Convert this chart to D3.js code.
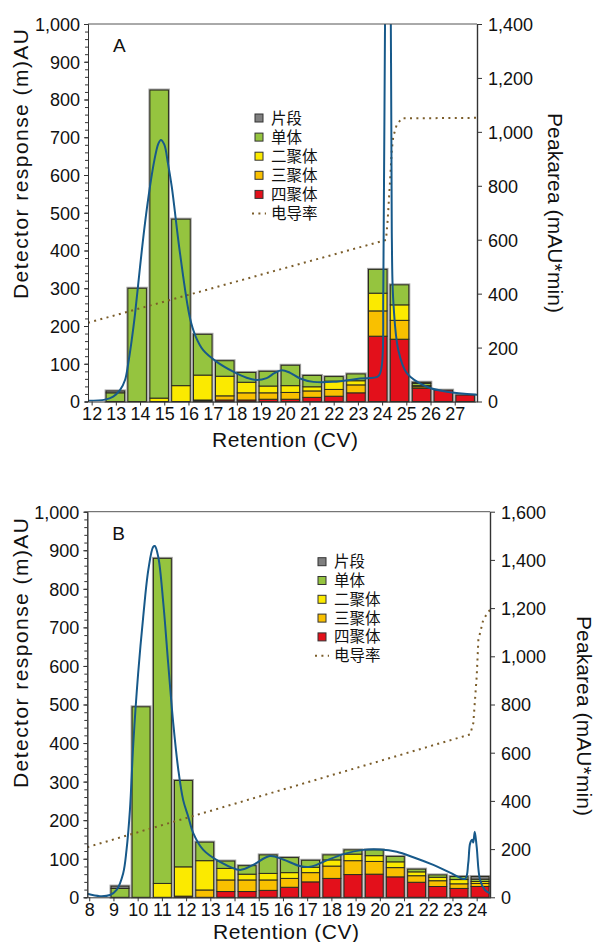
<!DOCTYPE html>
<html>
<head>
<meta charset="utf-8">
<script src="https://cdn.jsdelivr.net/npm/d3@7"></script>
<style>
  body { margin: 0; background: #fff; }
  svg text { font-family: "Liberation Sans", Arial, sans-serif; fill: #111; }
</style>
</head>
<body>
<svg id="chart" width="597" height="942"></svg>
<script>
// ---- species (stacked bottom -> top) and legend order ----
const stackKeys = ["四聚体", "三聚体", "二聚体", "单体", "片段"];
const legendKeys = ["片段", "单体", "二聚体", "三聚体", "四聚体"];
const conductivityLabel = "电导率";
const speciesColors = ["#7f7f7f", "#95c43f", "#fbea00", "#f9c000", "#e3101b"]; // legend order

// ---- panel A: fractions (retention in CV) and their composition (mAU) ----
const fractionCvA = [12.98, 13.88, 14.79, 15.69, 16.59, 17.50, 18.40, 19.30, 20.21, 21.11, 22.01, 22.92, 23.82, 24.72, 25.63, 26.53, 27.43];
const fragmentA = [5, 0, 0, 0, 0, 0, 0, 0, 0, 0, 0, 0, 0, 0, 3, 0, 0];
const monomerA  = [23, 300, 816, 441, 108, 41, 26, 39, 54, 30, 12, 18, 63, 53, 6, 0, 0];
const dimerA    = [0, 0, 9, 42, 66, 52, 28, 18, 18, 11, 22, 11, 47, 41, 3, 0, 0];
const trimerA   = [0, 0, 0, 0, 2, 11, 19, 17, 18, 17, 18, 21, 67, 50, 4, 0, 0];
const tetramerA = [0, 0, 0, 0, 2, 4, 4, 6, 6, 11, 14, 23, 173, 165, 35, 30, 17];

// UV trace (left axis)
const uvCvA  = [11.85, 12.55, 12.89, 13.17, 13.38, 13.51, 13.65, 13.79, 14.0, 14.2, 14.41, 14.6, 14.75, 14.86, 15.0, 15.15, 15.31, 15.65, 16.06, 16.3, 16.61, 17.17, 17.85, 18.4, 18.82, 19.23, 19.55, 19.85, 20.2, 20.61, 21.16, 21.98, 23.09, 23.84, 23.98, 24.05, 24.12, 24.24, 24.36, 24.4, 24.46, 24.67, 25.02, 25.84, 26.67, 27.92];
const uvValA = [2, 5, 13, 30, 57, 100, 160, 230, 357, 470, 569, 642, 682, 693, 681, 632, 569, 393, 222, 172, 136, 105, 79, 63, 57, 62, 75, 83, 76, 61, 52, 52, 61, 67, 92, 300, 1000, 1800, 1000, 446, 269, 136, 75, 39, 26, 18];
// conductivity trace (right axis)
const condCvA  = [11.85, 24.16, 24.23, 24.33, 24.40, 24.46, 24.60, 24.81, 27.92];
const condValA = [292, 599, 673, 821, 933, 982, 1025, 1050, 1052];
const xTicksA = [12, 13, 14, 15, 16, 17, 18, 19, 20, 21, 22, 23, 24, 25, 26, 27];
const rightTicksA = [0, 200, 400, 600, 800, 1000, 1200, 1400];

// ---- panel B ----
const fractionCvB = [9.27, 10.14, 11.02, 11.89, 12.77, 13.64, 14.52, 15.39, 16.27, 17.14, 18.02, 18.89, 19.77, 20.64, 21.52, 22.39, 23.27, 24.14];
const fragmentB = [6, 0, 0, 0, 0, 0, 0, 0, 0, 0, 0, 0, 0, 0, 0, 0, 0, 7];
const monomerB  = [23, 494, 843, 224, 48, 19, 22, 48, 39, 18, 13, 11, 15, 14, 7, 6, 8, 6];
const dimerB    = [0, 0, 36, 76, 76, 30, 15, 17, 15, 14, 16, 17, 15, 15, 10, 9, 11, 5];
const trimerB   = [0, 0, 0, 0, 19, 30, 30, 27, 23, 24, 32, 36, 33, 24, 17, 15, 12, 8];
const tetramerB = [0, 0, 0, 3, 0, 15, 15, 18, 26, 40, 49, 59, 60, 53, 39, 28, 23, 28];

const uvCvB  = [7.92, 8.44, 8.86, 9.13, 9.40, 9.54, 9.68, 9.82, 10.02, 10.23, 10.44, 10.64, 10.71, 10.85, 11.06, 11.26, 11.47, 11.68, 11.88, 12.09, 12.30, 12.71, 13.40, 14.23, 14.77, 15.46, 16.01, 16.70, 17.12, 17.67, 18.49, 19.32, 20.01, 20.70, 21.38, 22.21, 22.90, 23.52, 23.65, 23.73, 23.82, 23.86, 23.92, 24.00, 24.14, 24.34, 24.55];
const uvValB = [9, 3, 6, 19, 62, 123, 226, 399, 581, 728, 849, 909, 911, 883, 762, 607, 451, 330, 252, 209, 166, 123, 92, 71, 84, 107, 98, 81, 79, 92, 112, 123, 124, 118, 104, 84, 64, 48, 88, 140, 149, 142, 170, 131, 45, 19, 10];
const condCvB  = [7.92, 23.73, 23.86, 24.00, 24.07, 24.17, 24.27, 24.48, 24.55];
const condValB = [208, 676, 722, 915, 1068, 1109, 1151, 1185, 1192];
const xTicksB = [8, 9, 10, 11, 12, 13, 14, 15, 16, 17, 18, 19, 20, 21, 22, 23, 24];
const rightTicksB = [0, 200, 400, 600, 800, 1000, 1200, 1400, 1600];

const leftTicks = [0, 100, 200, 300, 400, 500, 600, 700, 800, 900, 1000];
const leftMinorTicks = d3.range(0, 1001, 20);

// ---- layout of the two panels ----
const panels = [
  {
    name: "A", left: 88, right: 477, top: 24, bottom: 401.5,
    cvDomain: [11.85, 27.92], rightMax: 1400,
    cv: fractionCvA,
    parts: { "片段": fragmentA, "单体": monomerA, "二聚体": dimerA, "三聚体": trimerA, "四聚体": tetramerA },
    uv: [uvCvA, uvValA], cond: [condCvA, condValA],
    xTicks: xTicksA, rightTicks: rightTicksA,
    legend: { x: 259, y: 118, dy: 19.1 },
    leftTitleY: 164, rightTitleX: 548, rightTitleY: 213, bottomTitleY: 447, bottomTitleX: 285
  },
  {
    name: "B", left: 87.3, right: 490, top: 511.7, bottom: 897.3,
    cvDomain: [7.92, 24.55], rightMax: 1600,
    cv: fractionCvB,
    parts: { "片段": fragmentB, "单体": monomerB, "二聚体": dimerB, "三聚体": trimerB, "四聚体": tetramerB },
    uv: [uvCvB, uvValB], cond: [condCvB, condValB],
    xTicks: xTicksB, rightTicks: rightTicksB,
    legend: { x: 322, y: 561.7, dy: 18.8 },
    leftTitleY: 653, rightTitleX: 577, rightTitleY: 716, bottomTitleY: 939, bottomTitleX: 286
  }
];

const color = d3.scaleOrdinal().domain(legendKeys).range(speciesColors);
const svg = d3.select("#chart");
const uvColor = "#17598a";
const condColor = "#7b5d2a";
const axisColor = "#333";

function styleAxis(g) {
  g.attr("font-family", null).attr("font-size", null);
  g.selectAll("text").style("font-size", "18px").attr("fill", "#111");
  g.selectAll("line").attr("stroke", axisColor);
  g.select(".domain").attr("stroke", axisColor);
}

function drawPanel(p) {
  const x = d3.scaleLinear().domain(p.cvDomain).range([p.left, p.right]);
  const y = d3.scaleLinear().domain([0, 1000]).range([p.bottom, p.top]);
  const y2 = d3.scaleLinear().domain([0, p.rightMax]).range([p.bottom, p.top]);

  const clipId = "plot-clip-" + p.name;
  svg.append("clipPath").attr("id", clipId)
    .append("rect")
    .attr("x", p.left).attr("y", p.top)
    .attr("width", p.right - p.left).attr("height", p.bottom - p.top);

  const g = svg.append("g");

  // stacked fraction bars
  const rows = p.cv.map((cv, i) => {
    const r = { cv };
    stackKeys.forEach(k => { r[k] = p.parts[k][i]; });
    return r;
  });
  const layers = d3.stack().keys(stackKeys)(rows);
  const step = x(p.cv[1]) - x(p.cv[0]);
  const bw = step * 0.85;
  const totals = rows.map(r => d3.sum(stackKeys, k => r[k]));

  g.append("g").selectAll("rect")
    .data(rows)
    .join("rect")
    .attr("x", d => x(d.cv) - bw / 2)
    .attr("y", (d, i) => y(totals[i]))
    .attr("width", bw)
    .attr("height", (d, i) => y(0) - y(totals[i]))
    .attr("fill", "none")
    .attr("stroke", "#a3a3a3")
    .attr("stroke-width", 3);

  layers.forEach(layer => {
    g.append("g").selectAll("rect")
      .data(layer.filter(d => d[1] - d[0] > 0))
      .join("rect")
      .attr("x", d => x(d.data.cv) - bw / 2)
      .attr("y", d => y(d[1]))
      .attr("width", bw)
      .attr("height", d => y(d[0]) - y(d[1]))
      .attr("fill", color(layer.key))
      .attr("stroke", "#2a2a1e")
      .attr("stroke-width", 1);
  });

  // conductivity (right axis), dotted
  const condPts = p.cond[0].map((c, i) => [c, p.cond[1][i]]);
  g.append("path")
    .datum(condPts)
    .attr("clip-path", `url(#${clipId})`)
    .attr("fill", "none")
    .attr("stroke", condColor)
    .attr("stroke-width", 2)
    .attr("stroke-dasharray", "2 4.4")
    .attr("d", d3.line().x(d => x(d[0])).y(d => y2(d[1])));

  // UV trace (left axis)
  const uvPts = p.uv[0].map((c, i) => [c, p.uv[1][i]]);
  g.append("path")
    .datum(uvPts)
    .attr("clip-path", `url(#${clipId})`)
    .attr("fill", "none")
    .attr("stroke", uvColor)
    .attr("stroke-width", 2)
    .attr("stroke-linejoin", "round")
    .attr("d", d3.line().x(d => x(d[0])).y(d => y(d[1])).curve(d3.curveCatmullRom.alpha(0.5)));

  // frame top line
  svg.append("line")
    .attr("x1", p.left).attr("x2", p.right)
    .attr("y1", p.top).attr("y2", p.top)
    .attr("stroke", "#555").attr("stroke-width", 1);

  // left axis: minor then major
  svg.append("g")
    .attr("transform", `translate(${p.left},0)`)
    .call(d3.axisLeft(y).tickValues(leftMinorTicks).tickSize(3).tickFormat(""))
    .call(styleAxis);
  svg.append("g")
    .attr("transform", `translate(${p.left},0)`)
    .call(d3.axisLeft(y).tickValues(leftTicks).tickSize(4).tickSizeOuter(0).tickPadding(4).tickFormat(d3.format(",")))
    .call(styleAxis)
    .selectAll("text").attr("dy", "0.36em");

  // right axis
  svg.append("g")
    .attr("transform", `translate(${p.right},0)`)
    .call(d3.axisRight(y2).tickValues(p.rightTicks).tickSize(5).tickSizeOuter(0).tickPadding(6).tickFormat(d3.format(",")))
    .call(styleAxis)
    .call(a => a.select(".domain").attr("stroke-width", 1.4))
    .selectAll("text").attr("dy", "0.36em");

  // bottom axis
  svg.append("g")
    .attr("transform", `translate(0,${p.bottom})`)
    .call(d3.axisBottom(x).tickValues(p.xTicks).tickSize(4).tickSizeOuter(0).tickPadding(2).tickFormat(d3.format("d")))
    .call(styleAxis);

  // panel letter
  svg.append("text")
    .attr("x", p.left + 25).attr("y", p.top + 28)
    .style("font-size", "19px")
    .text(p.name);

  // axis titles
  svg.append("text")
    .attr("transform", `translate(28,${p.leftTitleY}) rotate(-90)`)
    .attr("text-anchor", "middle")
    .style("font-size", "21px")
    .attr("textLength", 270).attr("lengthAdjust", "spacing")
    .text("Detector response (m)AU");
  svg.append("text")
    .attr("transform", `translate(${p.rightTitleX},${p.rightTitleY}) rotate(90)`)
    .attr("text-anchor", "middle")
    .style("font-size", "21px")
    .attr("textLength", 200).attr("lengthAdjust", "spacing")
    .text("Peakarea (mAU*min)");
  svg.append("text")
    .attr("x", p.bottomTitleX).attr("y", p.bottomTitleY)
    .attr("text-anchor", "middle")
    .style("font-size", "21px")
    .attr("textLength", 146).attr("lengthAdjust", "spacing")
    .text("Retention (CV)");

  // legend
  const lg = svg.append("g");
  legendKeys.forEach((k, i) => {
    const cy = p.legend.y + i * p.legend.dy;
    lg.append("rect")
      .attr("x", p.legend.x - 4).attr("y", cy - 4)
      .attr("width", 8).attr("height", 8)
      .attr("fill", color(k)).attr("stroke", "#333").attr("stroke-width", 1);
    lg.append("text")
      .attr("x", p.legend.x + 12).attr("y", cy)
      .attr("dy", "0.36em")
      .style("font-family", "'Noto Sans CJK SC', sans-serif")
      .style("font-size", "15.5px")
      .attr("fill", "#222")
      .text(k);
  });
  const cyc = p.legend.y + legendKeys.length * p.legend.dy;
  lg.append("line")
    .attr("x1", p.legend.x - 7).attr("x2", p.legend.x + 7)
    .attr("y1", cyc).attr("y2", cyc)
    .attr("stroke", condColor).attr("stroke-width", 2)
    .attr("stroke-dasharray", "2 4.4");
  lg.append("text")
    .attr("x", p.legend.x + 12).attr("y", cyc)
    .attr("dy", "0.36em")
    .style("font-family", "'Noto Sans CJK SC', sans-serif")
    .style("font-size", "15.5px")
    .attr("fill", "#222")
    .text(conductivityLabel);
}

panels.forEach(drawPanel);
</script>
</body>
</html>
